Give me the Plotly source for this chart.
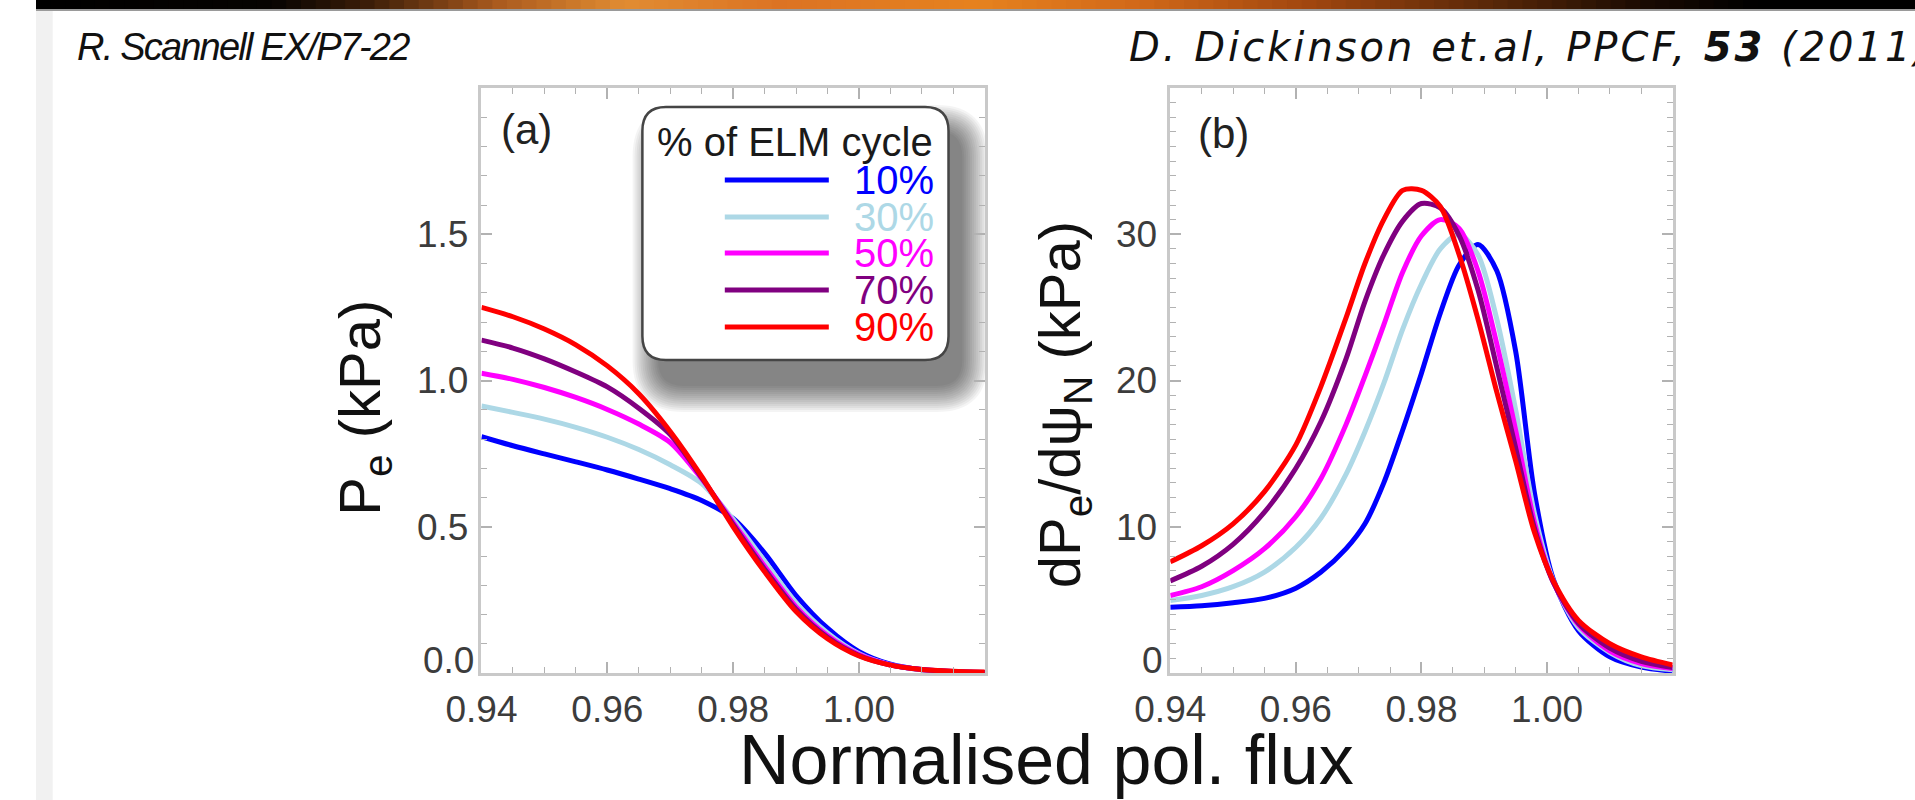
import plotly.graph_objects as go

W, H = 1915, 800

# ---------------- data ----------------
# panel (a): electron pressure profiles
psi_a = [0.940, 0.945, 0.950, 0.955, 0.960, 0.965, 0.970, 0.975, 0.980,
         0.985, 0.990, 0.995, 1.000, 1.005, 1.010, 1.015, 1.020]
pe_10 = [0.808, 0.777, 0.749, 0.722, 0.694, 0.663, 0.630, 0.590, 0.528,
         0.410, 0.265, 0.153, 0.073, 0.030, 0.011, 0.004, 0.001]
pe_30 = [0.913, 0.891, 0.868, 0.840, 0.806, 0.764, 0.712, 0.648, 0.525,
         0.382, 0.240, 0.137, 0.066, 0.028, 0.011, 0.004, 0.002]
pe_50 = [1.025, 1.004, 0.976, 0.942, 0.901, 0.851, 0.788, 0.664, 0.515,
         0.365, 0.226, 0.128, 0.063, 0.028, 0.012, 0.005, 0.002]
pe_70 = [1.138, 1.111, 1.074, 1.029, 0.978, 0.905, 0.815, 0.668, 0.508,
         0.355, 0.218, 0.122, 0.060, 0.027, 0.012, 0.005, 0.002]
pe_90 = [1.250, 1.218, 1.176, 1.122, 1.050, 0.955, 0.826, 0.672, 0.500,
         0.346, 0.210, 0.117, 0.058, 0.027, 0.012, 0.006, 0.003]

# panel (b): pressure gradient
psi_b = [0.940, 0.945, 0.950, 0.955, 0.960, 0.964, 0.968, 0.971, 0.974, 0.977,
         0.980, 0.983, 0.986, 0.989, 0.992, 0.995, 0.998, 1.001, 1.005, 1.010,
         1.015, 1.020]
dpe_10 = [4.5, 4.6, 4.8, 5.1, 5.8, 6.9, 8.5, 10.2, 13.0, 16.6,
          20.5, 24.6, 27.9, 29.3, 27.5, 22.0, 12.3, 6.4, 2.9, 1.1, 0.4, 0.12]
dpe_30 = [4.95, 5.3, 5.9, 6.9, 8.6, 10.6, 13.6, 16.5, 19.8, 23.5,
          26.6, 29.0, 30.0, 28.6, 24.2, 18.0, 10.9, 6.3, 3.1, 1.4, 0.5, 0.22]
dpe_50 = [5.3, 5.9, 7.0, 8.5, 10.7, 13.3, 17.0, 20.3, 23.8, 27.4,
          29.9, 31.0, 30.4, 27.5, 22.5, 16.6, 10.3, 6.2, 3.3, 1.5, 0.65, 0.3]
dpe_70 = [6.3, 7.3, 8.8, 11.0, 14.0, 17.2, 21.5, 25.4, 28.6, 30.9,
          32.1, 31.8, 29.9, 26.2, 20.9, 15.4, 9.9, 6.2, 3.4, 1.7, 0.8, 0.38]
dpe_90 = [7.6, 8.7, 10.2, 12.4, 15.6, 19.6, 24.3, 28.0, 31.0, 33.0,
          33.0, 31.9, 28.6, 24.2, 19.2, 14.5, 9.6, 6.3, 3.6, 2.0, 1.1, 0.55]

cycle_labels = ["10%", "30%", "50%", "70%", "90%"]
pe_series = [pe_10, pe_30, pe_50, pe_70, pe_90]
dpe_series = [dpe_10, dpe_30, dpe_50, dpe_70, dpe_90]
colors = ["#0000FF", "#ADD8E6", "#FF00FF", "#800080", "#FF0000"]

x_ticks = [0.94, 0.96, 0.98, 1.00]
ya_ticks = [0.5, 1.0, 1.5]
yb_ticks = [10, 20, 30]

# ---------------- helpers ----------------
def px(X):
    return X / W


def py(Y):
    return 1 - Y / H


A_L, A_R = 454, 967
B_L, B_R = 1156, 1668
P_T, P_B = 88, 673

fig = go.Figure()

for lab, ys, col in zip(cycle_labels, pe_series, colors):
    fig.add_trace(go.Scatter(x=psi_a, y=ys, mode="lines", name=lab,
                             line=dict(color=col, width=5, shape="spline", smoothing=0.8),
                             xaxis="x", yaxis="y", showlegend=False))
for lab, ys, col in zip(cycle_labels, dpe_series, colors):
    fig.add_trace(go.Scatter(x=psi_b, y=ys, mode="lines", name=lab,
                             line=dict(color=col, width=5, shape="spline", smoothing=0.8),
                             xaxis="x2", yaxis="y2", showlegend=False))

SANS = "Liberation Sans, Arial, sans-serif"
TICKFONT = dict(family=SANS, size=37, color="#3c3c3c")
FRAME = "#c9c9c9"
TICKC = "#b2b2b2"


def xaxis(domain, anchor):
    return dict(domain=domain, anchor=anchor, range=[0.94, 1.02],
                showgrid=False, zeroline=False, showline=True, linecolor=FRAME,
                linewidth=2.5, mirror="ticks", ticks="inside", ticklen=11,
                tickwidth=1.5, tickcolor=TICKC, tickvals=x_ticks,
                ticktext=["%.2f" % v for v in x_ticks], tickfont=TICKFONT,
                ticklabelstandoff=2,
                minor=dict(ticks="inside", ticklen=6, tickwidth=1.2,
                           tickcolor=TICKC, tick0=0.94, dtick=0.005))


def yaxis(domain, anchor, rng, tv, tt, mdt):
    return dict(domain=domain, anchor=anchor, range=rng,
                showgrid=False, zeroline=False, showline=True, linecolor=FRAME,
                linewidth=2.5, mirror="ticks", ticks="inside", ticklen=11,
                tickwidth=1.5, tickcolor=TICKC, tickvals=tv, ticktext=tt,
                tickfont=TICKFONT, ticklabelstandoff=3,
                minor=dict(ticks="inside", ticklen=6, tickwidth=1.2,
                           tickcolor=TICKC, tick0=0, dtick=mdt))


ydom = [py(P_B), py(P_T)]
fig.update_layout(
    width=W, height=H, autosize=False,
    margin=dict(l=0, r=0, t=0, b=0),
    paper_bgcolor="white", plot_bgcolor="rgba(0,0,0,0)",
    showlegend=False,
    xaxis=xaxis([px(A_L), px(A_R)], "y"),
    yaxis=yaxis(ydom, "x", [0, 2.0], ya_ticks, ["%.1f" % v for v in ya_ticks], 0.1),
    xaxis2=xaxis([px(B_L), px(B_R)], "y2"),
    yaxis2=yaxis(ydom, "x2", [0, 40], yb_ticks, [str(v) for v in yb_ticks], 1),
)

shapes = []
annotations = []

# ---- slide decoration: top banner gradient + left strip ----
stops = [(0, (0, 0, 0)), (240, (6, 3, 1)), (340, (60, 30, 8)), (470, (170, 90, 30)),
         (600, (225, 140, 50)), (760, (220, 115, 35)), (960, (230, 130, 30)),
         (1120, (210, 105, 25)), (1300, (160, 70, 15)), (1480, (90, 40, 8)),
         (1640, (25, 10, 2)), (1750, (0, 0, 0)), (1915, (0, 0, 0))]


def grad(X):
    for (x0, c0), (x1, c1) in zip(stops[:-1], stops[1:]):
        if x0 <= X <= x1:
            t = (X - x0) / (x1 - x0)
            return "rgb(%d,%d,%d)" % tuple(round(a + (b - a) * t) for a, b in zip(c0, c1))
    return "rgb(0,0,0)"


step = 15
for X in range(0, W, step):
    shapes.append(dict(type="rect", xref="paper", yref="paper", layer="below",
                       x0=px(X), x1=px(min(X + step + 1, W)), y0=py(9), y1=py(0),
                       fillcolor=grad(X + step / 2), line=dict(width=0)))
shapes.append(dict(type="rect", xref="paper", yref="paper", layer="below",
                   x0=0, x1=1, y0=py(11), y1=py(9), fillcolor="#9a9a9a", line=dict(width=0)))
shapes.append(dict(type="rect", xref="paper", yref="paper", layer="below",
                   x0=0, x1=px(17), y0=0, y1=py(11), fillcolor="#f1f1f1", line=dict(width=0)))


# ---- legend box (rounded, with soft shadow) ----
def rounded(X0, Y0, X1, Y1, r):
    rx, ry = r / W, r / H
    x0, x1 = px(X0), px(X1)
    yt, yb = py(Y0), py(Y1)
    return (f"M {x0 + rx},{yt} L {x1 - rx},{yt} Q {x1},{yt} {x1},{yt - ry} "
            f"L {x1},{yb + ry} Q {x1},{yb} {x1 - rx},{yb} L {x0 + rx},{yb} "
            f"Q {x0},{yb} {x0},{yb + ry} L {x0},{yt - ry} Q {x0},{yt} {x0 + rx},{yt} Z")


LB_X0, LB_Y0, LB_X1, LB_Y1 = 618, 107, 930, 360
for k in range(14):
    e = 28 - 2 * k
    shapes.append(dict(type="path", xref="paper", yref="paper", layer="below",
                       path=rounded(LB_X0 + 18 - e, LB_Y0 + 26 - e, LB_X1 + 12 + e, LB_Y1 + 24 + e, 24 + e),
                       fillcolor="rgba(0,0,0,0.045)", line=dict(width=0)))
shapes.append(dict(type="path", xref="paper", yref="paper", layer="above",
                   path=rounded(LB_X0, LB_Y0, LB_X1, LB_Y1, 24),
                   fillcolor="white", line=dict(color="#454545", width=2.5)))

annotations.append(dict(xref="paper", yref="paper", x=px((LB_X0 + LB_X1) / 2), y=py(142),
                        text="% of ELM cycle", showarrow=False, xanchor="center",
                        yanchor="middle",
                        font=dict(family=SANS, size=40, color="#1a1a1a")))
legend_y = [180, 217, 253, 290, 327]
for lab, col, Y in zip(cycle_labels, colors, legend_y):
    shapes.append(dict(type="line", xref="paper", yref="paper", layer="above",
                       x0=px(702), x1=px(808), y0=py(Y), y1=py(Y),
                       line=dict(color=col, width=5)))
    annotations.append(dict(xref="paper", yref="paper", x=px(917), y=py(Y),
                            text=lab, showarrow=False, xanchor="right", yanchor="middle",
                            font=dict(family=SANS, size=40, color=col)))

# ---- panel labels, zero tick labels ----
annotations.append(dict(xref="paper", yref="paper", x=px(472), y=py(130), text="(a)",
                        showarrow=False, xanchor="left", yanchor="middle",
                        font=dict(family=SANS, size=42, color="#222222")))
annotations.append(dict(xref="paper", yref="paper", x=px(1182), y=py(133), text="(b)",
                        showarrow=False, xanchor="left", yanchor="middle",
                        font=dict(family=SANS, size=42, color="#222222")))
annotations.append(dict(xref="x domain", yref="y", x=0, y=0, text="0.0", showarrow=False,
                        xanchor="right", yanchor="middle", xshift=-5, yshift=13,
                        font=TICKFONT))
annotations.append(dict(xref="x2 domain", yref="y2", x=0, y=0, text="0", showarrow=False,
                        xanchor="right", yanchor="middle", xshift=-5, yshift=13,
                        font=TICKFONT))

# ---- axis titles ----
LABFONT = dict(family=SANS, size=58, color="#111111")
annotations.append(dict(xref="paper", yref="paper", x=px(334), y=py(408),
                        text="P<sub>e</sub> (kPa)", textangle=-90, showarrow=False,
                        xanchor="center", yanchor="middle", font=LABFONT))
annotations.append(dict(xref="paper", yref="paper", x=px(1048), y=py(405),
                        text="dP<sub>e</sub>/dψ<sub>N</sub> (kPa)", textangle=-90,
                        showarrow=False, xanchor="center", yanchor="middle", font=LABFONT))
annotations.append(dict(xref="paper", yref="paper", x=px(1030), y=py(760),
                        text="Normalised pol. flux", showarrow=False,
                        xanchor="center", yanchor="middle",
                        font=dict(family=SANS, size=70, color="#111111")))

# ---- header texts ----
annotations.append(dict(xref="paper", yref="paper", x=px(40), y=py(47),
                        text="<span style='letter-spacing:-1.8px'><i>R. Scannell EX/P7-22</i></span>",
                        showarrow=False, xanchor="left", yanchor="middle",
                        font=dict(family=SANS, size=38, color="#111111")))
annotations.append(dict(xref="paper", yref="paper", x=px(1112), y=py(47),
                        text="<span style='letter-spacing:3px'><i>D. Dickinson et.al, PPCF, "
                             "<b>53</b> (2011)</i></span>",
                        showarrow=False, xanchor="left", yanchor="middle",
                        font=dict(family="DejaVu Sans, Verdana", size=40, color="#111111")))

fig.update_layout(shapes=shapes, annotations=annotations)
fig.write_html("out.html")
